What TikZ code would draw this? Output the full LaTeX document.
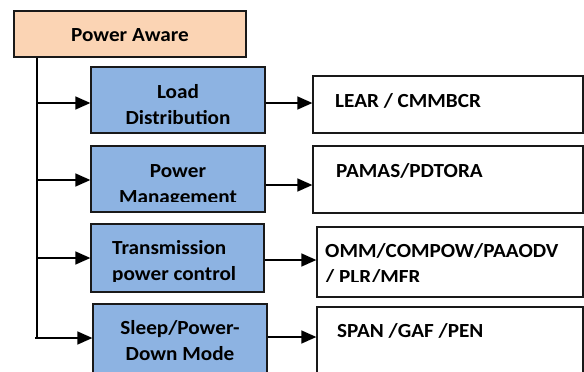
\documentclass[tikz,border=0pt]{standalone}
\usepackage{fontspec}
\setmainfont{Carlito}[FakeStretch=1.06]
\usetikzlibrary{arrows.meta}
\definecolor{peach}{HTML}{FBD4B4}
\definecolor{boxblue}{HTML}{8DB3E2}

\begin{document}
\begin{tikzpicture}[x=1pt, y=-1pt,
	every node/.style={inner sep=0pt, font=\fontsize{20}{26}\selectfont\bfseries},
	head/.style={draw=black!90, line width=1.3pt, fill=peach},
	method/.style={draw=black!90, line width=1.3pt, fill=boxblue},
	proto/.style={draw=black!90, line width=1.3pt, fill=white},
	arr/.style={line width=1.4pt, -{Triangle[length=15pt, width=13pt]}}]
					\useasboundingbox (0,0) rectangle (584,372);

					% boxes
					\node[head, minimum width=232pt, minimum height=46pt] (pa) at (130,34) {};
					\node[method, minimum width=174pt, minimum height=66pt] (ld) at (178,100) {};
					\node[method, minimum width=174pt, minimum height=66pt] (pm) at (178,179) {};
					\node[method, minimum width=173pt, minimum height=68pt] (tp) at (177.5,258) {};
					\node[method, minimum width=174pt, minimum height=72pt] (sd) at (180,340) {};
					\node[proto, minimum width=270pt, minimum height=57pt] (lear) at (448,104.5) {};
					\node[proto, minimum width=270pt, minimum height=67pt] (pamas) at (448,179.5) {};
					\node[proto, minimum width=266pt, minimum height=70pt] (omm) at (450,262) {};
					\node[proto, minimum width=266pt, minimum height=73pt] (span) at (450,343.5) {};

					% texts (base = last line)
					\node[anchor=base] (paT) at (130,41.7) {Power Aware};
					\begin{scope}
						\clip (91,67) rectangle (265,123.3);
						\node[anchor=base, align=center] (ldT) at (178,124.5) {Load\\Distribution};
					\end{scope}
					\begin{scope}
						\clip (91,146) rectangle (265,201);
						\node[anchor=base, align=center] (pmT) at (178,203) {Power\\Management};
					\end{scope}
					\begin{scope}
						\clip (91,224) rectangle (264,281.7);
						\node[anchor=base west, align=left] (tpT) at (112,280.5) {Transmission\\power control};
					\end{scope}
					\node[anchor=base, align=center] (sdT) at (180,360.5) {Sleep/Power-\\Down Mode};
					\node[anchor=base west] (learT) at (335,107.3) {LEAR / CMMBCR};
					\node[anchor=base west] (pamasT) at (336,177.7) {PAMAS/PDTORA};
					\begin{scope}
						\clip (317,227) rectangle (583,281.7);
						\node[anchor=base west, align=left] (ommT) at (325,283.5) {OMM/COMPOW/PAAODV\\/ PLR/MFR};
					\end{scope}
					\node[anchor=base west] (spanT) at (337,337.7) {SPAN /GAF /PEN};

					% connectors
					\coordinate (a1) at (37,103);
					\coordinate (a2) at (37,180);
					\coordinate (a3) at (37,258);
					\coordinate (a4) at (35,338);
					\coordinate (b1) at (0,103);
					\coordinate (b2) at (0,185);
					\coordinate (b3) at (0,260);
					\coordinate (b4) at (0,337);
					\draw[line width=1.2pt] (pa.south -| a1) -- (a1 |- a4);
					\draw[arr] (a1) -- (a1 -| ld.west);
					\draw[arr] (a2) -- (a2 -| pm.west);
					\draw[arr] (a3) -- (a3 -| tp.west);
					\draw[arr] (a4) -- (a4 -| sd.west);
					\draw[arr] (ld.east |- b1) -- (lear.west |- b1);
					\draw[arr] (pm.east |- b2) -- (pamas.west |- b2);
					\draw[arr] (tp.east |- b3) -- (omm.west |- b3);
					\draw[arr] (sd.east |- b4) -- (span.west |- b4);
				\end{tikzpicture}
\end{document}
